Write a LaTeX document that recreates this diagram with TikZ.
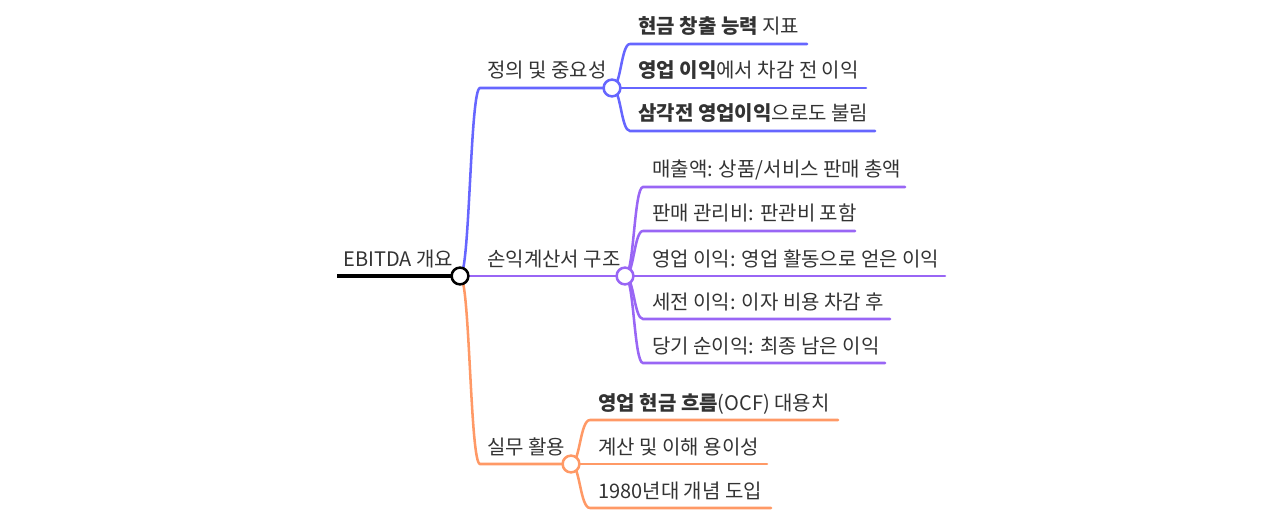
\documentclass[tikz,border=0pt]{standalone}
\usepackage{fontspec}
\newfontfamily\kr{Noto Sans CJK KR}
\definecolor{cA}{HTML}{6666FF}
\definecolor{cB}{HTML}{9966F5}
\definecolor{cC}{HTML}{FF9966}
\definecolor{txt}{HTML}{333333}
\tikzset{
  lbl/.style={anchor=base west, inner sep=0pt, font=\kr\fontsize{15}{17}\selectfont, text=txt},
  dot/.style={circle, draw, fill=white, line width=1.9pt, minimum size=12.6pt, inner sep=0pt},
  lnk/.style={line width=1.9pt, line cap=round},
}
\begin{document}
\begin{tikzpicture}[x=0.75pt,y=-0.75pt]
\useasboundingbox (0,0) rectangle (1280,520);
% coordinates
\coordinate (rootL) at (337,276);
\coordinate (a0) at (480,88);
\coordinate (c0) at (480,464);
\coordinate (a1s) at (630,44);  \coordinate (a1e) at (807,44);
\coordinate (a2s) at (630,88);  \coordinate (a2e) at (866,88);
\coordinate (a3s) at (630,131); \coordinate (a3e) at (875,131);
\coordinate (b1s) at (643,187); \coordinate (b1e) at (905,187);
\coordinate (b2s) at (643,231); \coordinate (b2e) at (855,231);
\coordinate (b3s) at (643,276); \coordinate (b3e) at (945,276);
\coordinate (b4s) at (643,319); \coordinate (b4e) at (890,319);
\coordinate (b5s) at (643,363); \coordinate (b5e) at (885,363);
\coordinate (c1s) at (590,420); \coordinate (c1e) at (838,420);
\coordinate (c2s) at (590,464); \coordinate (c2e) at (767,464);
\coordinate (c3s) at (590,508); \coordinate (c3e) at (771,508);
% circle positions
\coordinate (rootP) at (460,276);
\coordinate (APos) at (612,88);
\coordinate (BPos) at (625,276);
\coordinate (CPos) at (571,464);
% root line
\draw[line width=3pt] (rootL) -- (rootP);
% branch A
\draw[lnk, cA] (rootP) .. controls (470,276) and (470,88) .. (a0) -- (APos);
\draw[lnk, cA] (APos) .. controls (621,88) and (621,44) .. (a1s) -- (a1e);
\draw[lnk, cA] (APos) -- (a2e);
\draw[lnk, cA] (APos) .. controls (621,88) and (621,131) .. (a3s) -- (a3e);
% branch B
\draw[lnk, cB] (rootP) -- (BPos);
\draw[lnk, cB] (BPos) .. controls (634,276) and (634,187) .. (b1s) -- (b1e);
\draw[lnk, cB] (BPos) .. controls (634,276) and (634,231) .. (b2s) -- (b2e);
\draw[lnk, cB] (BPos) -- (b3e);
\draw[lnk, cB] (BPos) .. controls (634,276) and (634,319) .. (b4s) -- (b4e);
\draw[lnk, cB] (BPos) .. controls (634,276) and (634,363) .. (b5s) -- (b5e);
% branch C
\draw[lnk, cC] (rootP) .. controls (470,276) and (470,464) .. (c0) -- (CPos);
\draw[lnk, cC] (CPos) .. controls (580,464) and (580,420) .. (c1s) -- (c1e);
\draw[lnk, cC] (CPos) -- (c2e);
\draw[lnk, cC] (CPos) .. controls (580,464) and (580,508) .. (c3s) -- (c3e);
% circles
\node[dot, draw=black] (root) at (rootP) {};
\node[dot, draw=cA] (A) at (APos) {};
\node[dot, draw=cB] (B) at (BPos) {};
\node[dot, draw=cC] (C) at (CPos) {};
% labels
\node[lbl] (troot) at (343,266) {EBITDA 개요};
\node[lbl] (tA) at (487,78) {정의 및 중요성};
\node[lbl] (tB) at (487,266) {손익계산서 구조};
\node[lbl] (tC) at (487,454) {실무 활용};
\node[lbl] (tA1) at (638,34) {\textbf{현금 창출 능력} 지표};
\begin{scope}
\clip (630,50) rectangle (858,84);
\node[lbl] (tA2) at (638,78) {\textbf{영업 이익}에서 차감 전 이익};
\end{scope}
\node[lbl] (tA3) at (638,121) {\textbf{삼각전 영업이익}으로도 불림};
\node[lbl] (tB1) at (652,177) {매출액: 상품/서비스 판매 총액};
\node[lbl] (tB2) at (652,221) {판매 관리비: 판관비 포함};
\begin{scope}
\clip (643,240) rectangle (937,272);
\node[lbl] (tB3) at (652,266) {영업 이익: 영업 활동으로 얻은 이익};
\end{scope}
\node[lbl] (tB4) at (652,309) {세전 이익: 이자 비용 차감 후};
\begin{scope}
\clip (643,327) rectangle (877,359);
\node[lbl] (tB5) at (652,353) {당기 순이익: 최종 남은 이익};
\end{scope}
\begin{scope}
\clip (590,384) rectangle (830,416);
\node[lbl] (tC1) at (598,410) {\textbf{영업 현금 흐름}(OCF) 대용치};
\end{scope}
\node[lbl] (tC2) at (598,454) {계산 및 이해 용이성};
\node[lbl] (tC3) at (598,498) {1980년대 개념 도입};
\end{tikzpicture}
\end{document}
